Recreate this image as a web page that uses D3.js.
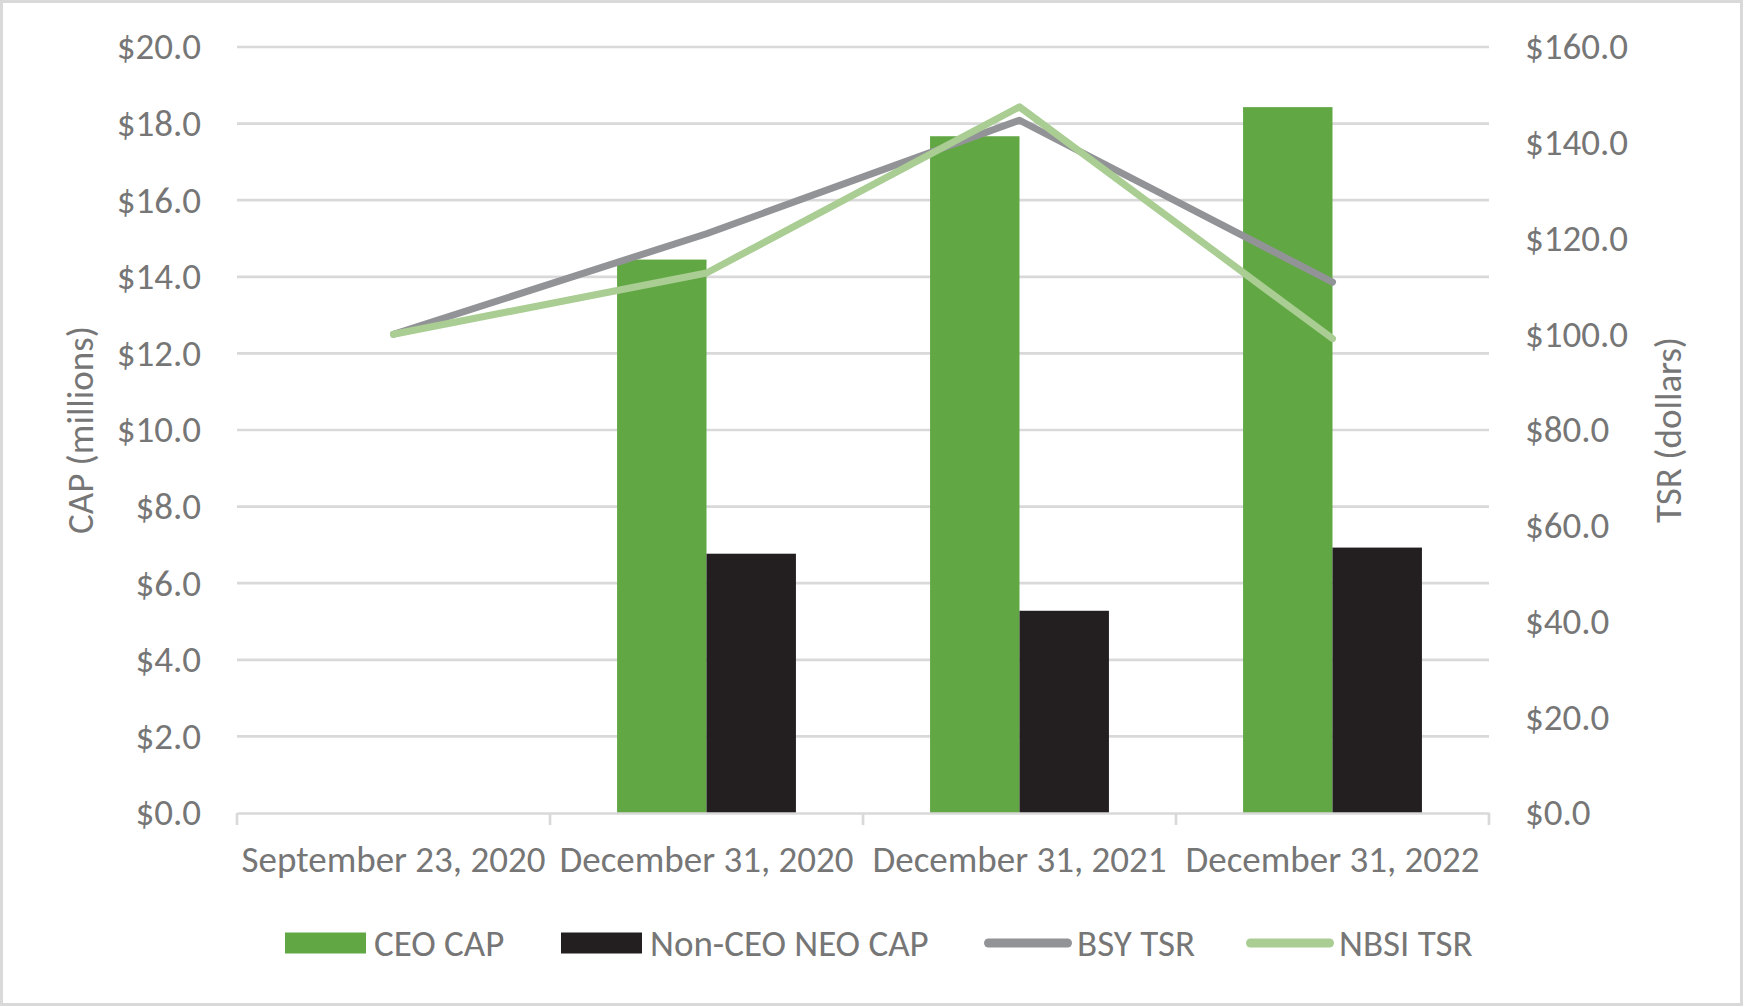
<!DOCTYPE html>
<html>
<head>
<meta charset="utf-8">
<script src="https://cdn.jsdelivr.net/npm/d3@7"></script>
<style>
  body { margin: 0; background: #fff; }
  text { font-family: Carlito, "Liberation Sans Narrow", "Open Sans", sans-serif; fill: #767676; }
</style>
</head>
<body>
<div id="container"></div>
<script>
// chart data
const categories = ['September 23, 2020', 'December 31, 2020', 'December 31, 2021', 'December 31, 2022'];
const ceoCap = [null, 14.45, 17.67, 18.43];
const nonCeoCap = [null, 6.77, 5.28, 6.93];
const bsyTsr = [100, 121.0, 144.7, 110.9];
const nbsiTsr = [100, 112.8, 147.5, 99.1];
const capTicks = [0, 2, 4, 6, 8, 10, 12, 14, 16, 18, 20];
const tsrTicks = [0, 20, 40, 60, 80, 100, 120, 140, 160];

const width = 1745;
const height = 1007;
const margin = {left: 237, right: 256, top: 47, bottom: 194};
const fontSize = 37;

const svg = d3.select('#container')
              .append('svg')
              .attr('width', width)
              .attr('height', height);

// outer frame
svg.append('rect')
   .attr('x', 1.5).attr('y', 1.5)
   .attr('width', 1740).attr('height', 1003)
   .attr('fill', 'none')
   .attr('stroke', '#d9d9d9')
   .attr('stroke-width', 3);

const plotW = width - margin.left - margin.right;
const plotH = height - margin.top - margin.bottom;

const xScale = d3.scaleBand().domain(categories).range([margin.left, margin.left + plotW]);
const band = xScale.bandwidth();
const barW = band / 3.5;
const yCap = d3.scaleLinear().domain([0, 20]).range([margin.top + plotH, margin.top]);
const yTsr = d3.scaleLinear().domain([0, 160]).range([margin.top + plotH, margin.top]);

//gridlines
svg.append('g')
   .selectAll('line')
   .data(capTicks.filter(d => d > 0))
   .enter()
   .append('line')
   .attr('x1', margin.left)
   .attr('x2', margin.left + plotW)
   .attr('y1', d => yCap(d))
   .attr('y2', d => yCap(d))
   .attr('stroke', '#d9d9d9')
   .attr('stroke-width', 2.7);

//left axis
const leftAxis = d3.axisLeft(yCap)
                   .tickValues(capTicks)
                   .tickFormat(d => '$' + d.toFixed(1))
                   .tickSize(0)
                   .tickPadding(36);
svg.append('g')
   .attr('transform', `translate(${margin.left},0)`)
   .call(leftAxis)
   .call(g => g.select('.domain').remove())
   .selectAll('text')
   .attr('font-size', fontSize)
   .attr('font-family', null);

//right axis
const rightAxis = d3.axisRight(yTsr)
                    .tickValues(tsrTicks)
                    .tickFormat(d => '$' + d.toFixed(1))
                    .tickSize(0)
                    .tickPadding(36);
svg.append('g')
   .attr('transform', `translate(${margin.left + plotW},0)`)
   .call(rightAxis)
   .call(g => g.select('.domain').remove())
   .selectAll('text')
   .attr('font-size', fontSize)
   .attr('font-family', null);

//bars
const bars = svg.append('g');
bars.selectAll('.ceo')
    .data(categories.map((c, i) => ({c: c, v: ceoCap[i]})).filter(d => d.v != null))
    .enter()
    .append('rect')
    .attr('class', 'ceo')
    .attr('x', d => xScale(d.c) + band / 2 - barW)
    .attr('y', d => yCap(d.v))
    .attr('width', barW)
    .attr('height', d => yCap(0) - yCap(d.v))
    .attr('fill', '#61a744');
bars.selectAll('.neo')
    .data(categories.map((c, i) => ({c: c, v: nonCeoCap[i]})).filter(d => d.v != null))
    .enter()
    .append('rect')
    .attr('class', 'neo')
    .attr('x', d => xScale(d.c) + band / 2)
    .attr('y', d => yCap(d.v))
    .attr('width', barW)
    .attr('height', d => yCap(0) - yCap(d.v))
    .attr('fill', '#231f20');

//x axis
const xAxis = d3.axisBottom(xScale).tickSize(0).tickPadding(0);
const xg = svg.append('g')
   .attr('transform', `translate(0,${margin.top + plotH})`)
   .call(xAxis);
xg.select('.domain')
  .attr('stroke', '#d9d9d9')
  .attr('stroke-width', 2.7);
xg.selectAll('text')
  .attr('font-size', fontSize)
  .attr('font-family', null)
  .attr('y', 59)
  .attr('dy', 0);
xg.selectAll('.sep')
  .data(d3.range(categories.length + 1))
  .enter()
  .append('line')
  .attr('class', 'sep')
  .attr('x1', i => margin.left + i * band)
  .attr('x2', i => margin.left + i * band)
  .attr('y1', 0)
  .attr('y2', 12)
  .attr('stroke', '#d9d9d9')
  .attr('stroke-width', 2.7);

//TSR lines
const line = d3.line()
               .x((d, i) => xScale(categories[i]) + band / 2)
               .y(d => yTsr(d));
svg.append('path')
   .attr('d', line(bsyTsr))
   .attr('fill', 'none')
   .attr('stroke', '#929397')
   .attr('stroke-width', 7)
   .attr('stroke-linecap', 'round')
   .attr('stroke-linejoin', 'round');
svg.append('path')
   .attr('d', line(nbsiTsr))
   .attr('fill', 'none')
   .attr('stroke', '#a9cd92')
   .attr('stroke-width', 7)
   .attr('stroke-linecap', 'round')
   .attr('stroke-linejoin', 'round');

//axis titles
svg.append('text')
   .attr('transform', `translate(93,${margin.top + plotH / 2}) rotate(-90)`)
   .attr('text-anchor', 'middle')
   .attr('font-size', fontSize)
   .text('CAP (millions)');
svg.append('text')
   .attr('transform', `translate(1681,${margin.top + plotH / 2}) rotate(-90)`)
   .attr('text-anchor', 'middle')
   .attr('font-size', fontSize)
   .text('TSR (dollars)');

//legend
const legendY = 943;
const legend = [
  {name: 'CEO CAP', type: 'rect', color: '#61a744', x: 285},
  {name: 'Non-CEO NEO CAP', type: 'rect', color: '#231f20', x: 561},
  {name: 'BSY TSR', type: 'line', color: '#929397', x: 984},
  {name: 'NBSI TSR', type: 'line', color: '#a9cd92', x: 1246}
];
legend.forEach(item => {
  if (item.type === 'rect') {
    svg.append('rect')
       .attr('x', item.x).attr('y', legendY - 10.5)
       .attr('width', 81).attr('height', 21)
       .attr('fill', item.color);
  } else {
    svg.append('line')
       .attr('x1', item.x + 4.5).attr('x2', item.x + 83.5)
       .attr('y1', legendY).attr('y2', legendY)
       .attr('stroke', item.color)
       .attr('stroke-width', 9)
       .attr('stroke-linecap', 'round');
  }
  svg.append('text')
     .attr('x', item.x + (item.type === 'rect' ? 89 : 93))
     .attr('y', legendY)
     .attr('dy', '0.35em')
     .attr('font-size', fontSize)
     .text(item.name);
});
</script>
</body>
</html>
